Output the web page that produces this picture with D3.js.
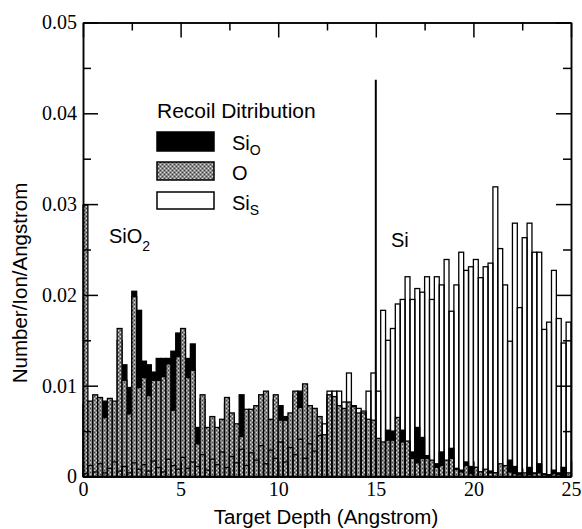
<!DOCTYPE html>
<html>
<head>
<meta charset="utf-8">
<script src="https://cdn.jsdelivr.net/npm/d3@7"></script>
<style>
  body { margin: 0; background: #fff; }
  svg text { fill: #000; }
  .tick text { font-family: "Liberation Serif", "Times New Roman", serif; font-size: 20px; }
  .sans { font-family: "Liberation Sans", Arial, Helvetica, sans-serif; }
</style>
</head>
<body>
<script>
// recoil distribution, 0.25 Angstrom bins from 0 to 25
var binWidth = 0.25;

// Si recoils from the oxide (black)
var siO = [0.0080,0.0080,0.0085,0.0082,0.0083,0.0082,0.0078,0.0150,0.0123,0.0098,
           0.0204,0.0183,0.0127,0.0123,0.0115,0.0130,0.0130,0.0130,0.0138,0.0158,
           0.0155,0.0130,0.0146,0.0054,0.0085,0.0050,0.0060,0.0050,0.0058,0.0080,
           0.0065,0.0055,0.0090,0.0068,0.0071,0.0070,0.0082,0.0088,0.0060,0.0085,
           0.0078,0.0066,0.0065,0.0090,0.0094,0.0098,0.0072,0.0070,0.0060,0.0040,
           0.0085,0.0080,0.0070,0.0068,0.0075,0.0070,0.0062,0.0060,0.0055,0.0050,
           0.0025,0.0030,0.0051,0.0050,0.0040,0.0051,0.0038,0.0027,0.0054,0.0043,
           0.0023,0.0014,0.0014,0.0027,0.0016,0.0031,0.0009,0.0007,0.0016,0.0011,
           0.0010,0.0005,0.0004,0.0006,0.0004,0.0008,0.0010,0.0018,0.0011,0.0004,
           0.0003,0.0010,0.0004,0.0014,0.0003,0.0002,0.0007,0.0004,0.0010,0.0003];

// O recoils (gray)
var oRec = [0.0299,0.0083,0.0090,0.0087,0.0065,0.0086,0.0083,0.0163,0.0106,0.0069,
            0.0198,0.0098,0.0109,0.0089,0.0106,0.0106,0.0110,0.0124,0.0073,0.0132,
            0.0163,0.0109,0.0117,0.0036,0.0090,0.0054,0.0066,0.0054,0.0063,0.0087,
            0.0070,0.0058,0.0044,0.0074,0.0074,0.0078,0.0090,0.0094,0.0063,0.0090,
            0.0062,0.0062,0.0070,0.0094,0.0076,0.0102,0.0078,0.0075,0.0066,0.0046,
            0.0090,0.0088,0.0078,0.0075,0.0082,0.0077,0.0070,0.0070,0.0063,0.0062,
            0.0042,0.0038,0.0040,0.0040,0.0065,0.0038,0.0039,0.0020,0.0015,0.0020,
            0.0020,0.0018,0.0010,0.0012,0.0018,0.0020,0.0008,0.0005,0.0012,0.0003,
            0.0010,0.0005,0.0008,0.0004,0.0004,0.0014,0.0012,0.0005,0.0003,0.0002,
            0.0004,0.0002,0.0003,0.0004,0.0002,0.0001,0.0003,0.0002,0.0001,0.0004];

// Si recoils from the substrate (white, drawn as outlines on top)
var siS = [0.0003,0.0012,0.0005,0.0014,0.0004,0.0009,0.0016,0.0006,0.0011,0.0004,
           0.0015,0.0008,0.0013,0.0006,0.0017,0.0010,0.0005,0.0019,0.0012,0.0008,
           0.0021,0.0009,0.0016,0.0011,0.0024,0.0007,0.0019,0.0013,0.0027,0.0010,
           0.0022,0.0015,0.0030,0.0012,0.0026,0.0018,0.0034,0.0014,0.0029,0.0020,
           0.0038,0.0016,0.0032,0.0024,0.0041,0.0020,0.0036,0.0028,0.0045,0.0058,
           0.0094,0.0094,0.0094,0.0082,0.0114,0.0078,0.0075,0.0072,0.0094,0.0114,
           0.0094,0.0183,0.0150,0.0163,0.0190,0.0195,0.0220,0.0195,0.0207,0.0203,
           0.0220,0.0195,0.0220,0.0211,0.0239,0.0182,0.0211,0.0247,0.0227,0.0231,
           0.0239,0.0219,0.0231,0.0235,0.0319,0.0251,0.0211,0.0149,0.0279,0.0186,
           0.0263,0.0279,0.0247,0.0247,0.0162,0.0170,0.0227,0.0174,0.0147,0.0170];

var interfaceDepth = 15;
var interfaceHeight = 0.0437;

var xMajor = [0, 5, 10, 15, 20, 25];
var xMinor = [2.5, 7.5, 12.5, 17.5, 22.5];
var yMajor = [0, 0.01, 0.02, 0.03, 0.04, 0.05];
var yMinor = [0.005, 0.015, 0.025, 0.035, 0.045];

function Draw()
{
    var width = 582, height = 529;
    var left = 83, right = 571, top = 22.5, bottom = 476.5;

    var svg = d3.select("body").append("svg")
        .attr("width", width)
        .attr("height", height);

    // halftone gray used for the O bars
    var pat = svg.append("defs").append("pattern")
        .attr("id", "halftone")
        .attr("patternUnits", "userSpaceOnUse")
        .attr("width", 4).attr("height", 4);
    pat.append("rect").attr("width", 4).attr("height", 4).attr("fill", "#8a8a8a");
    pat.append("rect").attr("x", 0).attr("y", 0).attr("width", 1).attr("height", 1).attr("fill", "#dedede");
    pat.append("rect").attr("x", 2).attr("y", 2).attr("width", 1).attr("height", 1).attr("fill", "#dedede");
    pat.append("rect").attr("x", 2).attr("y", 0).attr("width", 1).attr("height", 1).attr("fill", "#444");
    pat.append("rect").attr("x", 0).attr("y", 2).attr("width", 1).attr("height", 1).attr("fill", "#444");

    var x = d3.scaleLinear().domain([0, 25]).range([left, right]);
    var y = d3.scaleLinear().domain([0, 0.05]).range([bottom, top]);

    var bins = d3.range(siO.length);
    var bw = x(binWidth) - x(0);

    function bars(cls, values, fill)
    {
        svg.append("g").attr("class", cls).selectAll("rect")
            .data(bins)
            .enter()
            .append("rect")
            .attr("x", function (i) { return x(i * binWidth); })
            .attr("width", bw)
            .attr("y", function (i) { return y(values[i]); })
            .attr("height", function (i) { return y(0) - y(values[i]); })
            .attr("fill", fill)
            .attr("stroke", "#000")
            .attr("stroke-width", 1.3);
    }

    bars("si-o", siO, "#000");
    bars("o", oRec, "url(#halftone)");
    bars("si-s", siS, "none");

    // SiO2 / Si interface
    svg.append("line")
        .attr("x1", x(interfaceDepth)).attr("x2", x(interfaceDepth))
        .attr("y1", y(0)).attr("y2", y(interfaceHeight))
        .attr("stroke", "#000").attr("stroke-width", 2);

    // axes with inward ticks
    var fmtY = function (d) { return d === 0 ? "0" : d.toFixed(2); };

    svg.append("g").attr("transform", "translate(" + left + ",0)")
        .call(d3.axisLeft(y).tickValues(yMajor).tickSize(-15).tickSizeOuter(0).tickPadding(6).tickFormat(fmtY));
    svg.append("g").attr("transform", "translate(" + left + ",0)")
        .call(d3.axisLeft(y).tickValues(yMinor).tickSize(-8).tickSizeOuter(0).tickFormat(""));
    svg.append("g").attr("transform", "translate(" + right + ",0)")
        .call(d3.axisRight(y).tickValues(yMajor).tickSize(-15).tickSizeOuter(0).tickFormat(""));
    svg.append("g").attr("transform", "translate(" + right + ",0)")
        .call(d3.axisRight(y).tickValues(yMinor).tickSize(-8).tickSizeOuter(0).tickFormat(""));

    svg.append("g").attr("transform", "translate(0," + bottom + ")")
        .call(d3.axisBottom(x).tickValues(xMajor).tickSize(-15).tickSizeOuter(0).tickPadding(5));
    svg.append("g").attr("transform", "translate(0," + bottom + ")")
        .call(d3.axisBottom(x).tickValues(xMinor).tickSize(-8).tickSizeOuter(0).tickFormat(""));
    svg.append("g").attr("transform", "translate(0," + top + ")")
        .call(d3.axisTop(x).tickValues(xMajor).tickSize(-15).tickSizeOuter(0).tickFormat(""));
    svg.append("g").attr("transform", "translate(0," + top + ")")
        .call(d3.axisTop(x).tickValues(xMinor).tickSize(-8).tickSizeOuter(0).tickFormat(""));

    svg.selectAll(".domain").attr("stroke-width", 1.5);
    svg.selectAll(".tick line").attr("stroke-width", 1.5);

    // axis titles
    svg.append("text").attr("class", "sans")
        .attr("x", 326).attr("y", 524)
        .attr("text-anchor", "middle").attr("font-size", 20.5)
        .text("Target Depth (Angstrom)");
    svg.append("text").attr("class", "sans")
        .attr("transform", "translate(27,283) rotate(-90)")
        .attr("text-anchor", "middle").attr("font-size", 20.5)
        .text("Number/Ion/Angstrom");

    // legend
    svg.append("text").attr("class", "sans")
        .attr("x", 157).attr("y", 118).attr("font-size", 21)
        .text("Recoil Ditribution");

    var legend = [
        { fill: "#000", base: "Si", sub: "O", y: 132, h: 19 },
        { fill: "url(#halftone)", base: "O", sub: "", y: 162, h: 18 },
        { fill: "#fff", base: "Si", sub: "S", y: 192, h: 17 }
    ];
    var lg = svg.append("g").selectAll("g").data(legend).enter().append("g");
    lg.append("rect")
        .attr("x", 157).attr("width", 57)
        .attr("y", function (d) { return d.y; })
        .attr("height", function (d) { return d.h; })
        .attr("fill", function (d) { return d.fill; })
        .attr("stroke", "#000").attr("stroke-width", 1.5);
    var lt = lg.append("text").attr("class", "sans")
        .attr("x", 232)
        .attr("y", function (d) { return d.y + 18; })
        .attr("font-size", 20);
    lt.append("tspan").text(function (d) { return d.base; });
    lt.append("tspan").attr("dy", 5).attr("font-size", 14)
        .text(function (d) { return d.sub; });

    // region labels
    var t1 = svg.append("text").attr("class", "sans")
        .attr("x", 109).attr("y", 243).attr("font-size", 20);
    t1.append("tspan").text("SiO");
    t1.append("tspan").attr("dy", 8).attr("font-size", 14).text("2");

    svg.append("text").attr("class", "sans")
        .attr("x", 391).attr("y", 247).attr("font-size", 20)
        .text("Si");
}
window.onload = Draw;
</script>
</body>
</html>
